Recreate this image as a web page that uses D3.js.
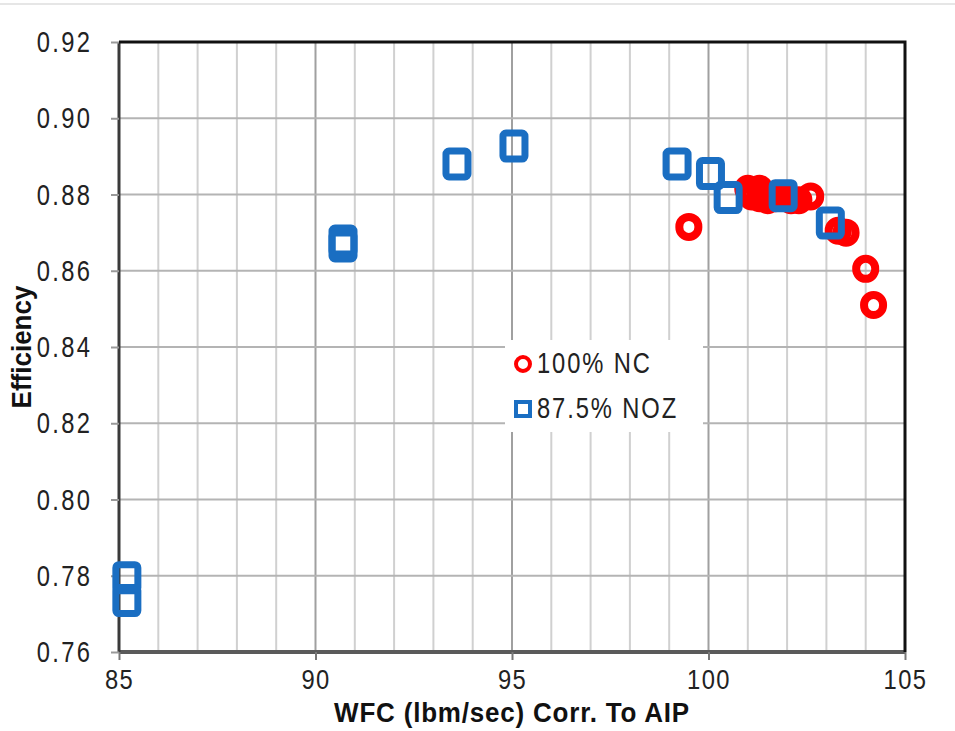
<!DOCTYPE html>
<html><head><meta charset="utf-8">
<script src="https://cdn.jsdelivr.net/npm/d3@7"></script>
<style>body{margin:0;background:#fff}svg{display:block}</style>
</head><body>
<svg id="c" width="955" height="731"></svg>
<script>
// ---- data ----
const xTicks = [85, 90, 95, 100, 105];
const yTicks = [0.76, 0.78, 0.80, 0.82, 0.84, 0.86, 0.88, 0.90, 0.92];
const xMinorGrid = [86,87,88,89,91,92,93,94,96,97,98,99,101,102,103,104];
const xMajorGrid = [90, 95, 100];
const seriesNames = ["100% NC", "87.5% NOZ"];
const ncX = [99.5, 101.0, 101.1, 101.1, 101.3, 101.3, 101.4, 101.5, 101.7, 101.9, 102.1, 102.3, 102.6, 103.3, 103.5, 104.0, 104.2];
const ncY = [0.8715, 0.8815, 0.8805, 0.8795, 0.8815, 0.879, 0.880, 0.8785, 0.879, 0.8795, 0.8785, 0.8785, 0.8795, 0.8705, 0.870, 0.8605, 0.851];
const nozX = [85.2, 85.2, 90.7, 90.7, 93.6, 95.05, 99.2, 100.05, 100.5, 101.9, 103.1];
const nozY = [0.7795, 0.7735, 0.8678, 0.8665, 0.888, 0.8927, 0.888, 0.8855, 0.8792, 0.8797, 0.8725];

const svg = d3.select("#c");
const L = 119, R = 905, T = 42, B = 652;
const x = d3.scaleLinear().domain([85,105]).range([L,R]);
const y = d3.scaleLinear().domain([0.76,0.92]).range([B,T]);
const font = "'Liberation Sans', Arial, sans-serif";
const RED = "#ff0000", BLUE = "#1a6ec2";

svg.append("line").attr("x1",0).attr("x2",955).attr("y1",4).attr("y2",4).attr("stroke","#e6e6e6").attr("stroke-width",2);

// grid
svg.append("g").selectAll("line").data(xMinorGrid).join("line")
  .attr("x1",d=>x(d)).attr("x2",d=>x(d)).attr("y1",T).attr("y2",B)
  .attr("stroke","#d0d0d0").attr("stroke-width",2);
svg.append("g").selectAll("line").data(xMajorGrid).join("line")
  .attr("x1",d=>x(d)).attr("x2",d=>x(d)).attr("y1",T).attr("y2",B)
  .attr("stroke","#a0a0a0").attr("stroke-width",2);
svg.append("g").selectAll("line").data(yTicks.slice(1,-1)).join("line")
  .attr("x1",L).attr("x2",R).attr("y1",d=>y(d)).attr("y2",d=>y(d))
  .attr("stroke","#b4b4b4").attr("stroke-width",2);

// axes via d3
const gx = svg.append("g").attr("transform",`translate(0,${B})`)
  .call(d3.axisBottom(x).tickValues(xTicks).tickSize(8).tickPadding(4).tickFormat(d3.format("d")));
gx.select(".domain").attr("stroke","#5a5a5a").attr("stroke-width",4).attr("d",`M${L},0H${R}`);
gx.selectAll(".tick line").attr("stroke","#777").attr("stroke-width",2);
gx.selectAll(".tick text").attr("font-family",font).attr("font-size",25).attr("fill","#222")
  .attr("dy","0.85em").attr("letter-spacing","1.5px").attr("transform","scale(0.95,1.12)");

const gy = svg.append("g").attr("transform",`translate(${L},0)`)
  .call(d3.axisLeft(y).tickValues(yTicks).tickSize(8).tickPadding(20).tickFormat(d3.format(".2f")));
gy.select(".domain").attr("stroke","#3a3a3a").attr("stroke-width",3).attr("d",`M0,${T}V${B}`);
gy.selectAll(".tick line").attr("stroke","#999").attr("stroke-width",2);
gy.selectAll(".tick text").attr("font-family",font).attr("font-size",25).attr("fill","#222")
  .attr("letter-spacing","2.5px").attr("transform","scale(0.95,1.2)");

// top/right border
svg.append("path").attr("d",`M${L},${T}H${R}V${B}`).attr("fill","none").attr("stroke","#111").attr("stroke-width",3);

// markers
function stadium(cx, cy, w, h){
  const r = w/2;
  return `M${cx-r},${cy+h/2-r}V${cy-h/2+r}A${r},${r} 0 0 1 ${cx+r},${cy-h/2+r}V${cy+h/2-r}A${r},${r} 0 0 1 ${cx-r},${cy+h/2-r}Z`;
}
const nc = ncX.map((v,i)=>({x:v,y:ncY[i]}));
const noz = nozX.map((v,i)=>({x:v,y:nozY[i]}));
svg.append("g").selectAll("path").data(nc).join("path")
  .attr("d",d=>stadium(x(d.x), y(d.y), 19, 20))
  .attr("fill","none").attr("stroke",RED).attr("stroke-width",8).attr("stroke-linejoin","round");
svg.append("g").selectAll("rect").data(noz).join("rect")
  .attr("x",d=>x(d.x)-11).attr("y",d=>y(d.y)-13).attr("width",22).attr("height",26).attr("rx",3)
  .attr("fill","none").attr("stroke",BLUE).attr("stroke-width",7);

// legend
const lg = svg.append("g");
lg.append("rect").attr("x",505).attr("y",340).attr("width",198).attr("height",92).attr("fill","#fff");
lg.append("circle").attr("cx",523).attr("cy",364).attr("r",7).attr("fill","none").attr("stroke",RED).attr("stroke-width",4);
lg.append("rect").attr("x",516).attr("y",402).attr("width",14).attr("height",14).attr("fill","none").attr("stroke",BLUE).attr("stroke-width",4);
lg.selectAll("text").data(seriesNames).join("text")
  .attr("transform",(d,i)=>`translate(537,${373+i*45}) scale(0.95,1.2)`).text(d=>d)
  .attr("font-family",font).attr("font-size",25).attr("fill","#222").attr("letter-spacing","2px");

// titles
svg.append("text").attr("transform","translate(512,722) scale(1,1.08)").attr("text-anchor","middle")
  .attr("font-family",font).attr("font-weight","bold").attr("font-size",26).attr("fill","#111")
  .attr("letter-spacing","0.8px")
  .text("WFC (lbm/sec) Corr. To AIP");
svg.append("text").attr("transform",`translate(31,347) rotate(-90) scale(1,1.08)`).attr("text-anchor","middle")
  .attr("font-family",font).attr("font-weight","bold").attr("font-size",26).attr("fill","#111")
  .text("Efficiency");
</script>
</body></html>
